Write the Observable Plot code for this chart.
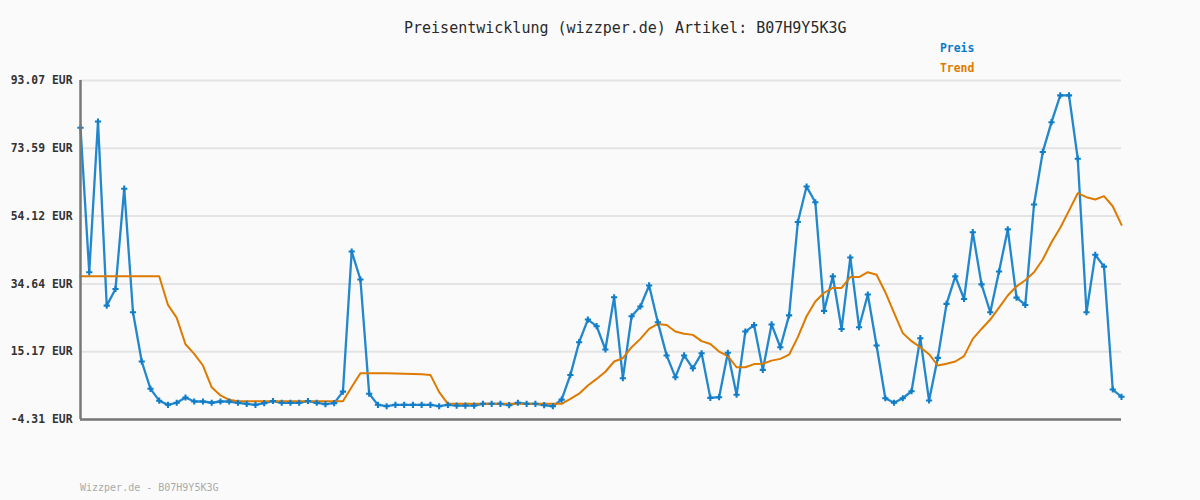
<!DOCTYPE html>
<html>
<head>
<meta charset="utf-8">
<script src="https://cdn.jsdelivr.net/npm/d3@7"></script>
<script src="https://cdn.jsdelivr.net/npm/@observablehq/plot@0.6"></script>
<style>
  html, body { margin: 0; padding: 0; background: #fafafa; }
  #wrap { position: relative; width: 1200px; height: 500px; background: #fafafa; font-family: "DejaVu Sans Mono", "Liberation Mono", monospace; }
  #wrap svg { position: absolute; left: 0; top: 0; }
  .abs { position: absolute; white-space: nowrap; line-height: 1; }
  #title { left: 404px; top: 21px; font-size: 15px; color: #2a2a2a; }
  .leg { font-size: 11.4px; font-weight: bold; left: 940px; }
  #footer { left: 80px; top: 483px; font-size: 10px; color: #aaa; }
</style>
</head>
<body>
<div id="wrap">
  <div id="title" class="abs">Preisentwicklung (wizzper.de) Artikel: B07H9Y5K3G</div>
  <div class="abs leg" style="top:43px;color:#0a7ac8">Preis</div>
  <div class="abs leg" style="top:63px;color:#dd7a00">Trend</div>
  <div id="footer" class="abs">Wizzper.de - B07H9Y5K3G</div>
</div>
<script>
const preis = [79.5, 38.0, 81.3, 28.4, 33.2, 62.0, 26.5, 12.35, 4.5, 1.1,
  -0.1, 0.5, 2.0, 0.86, 0.86, 0.5, 0.86, 0.86, 0.5, 0.2,
  -0.1, 0.4, 1.0, 0.5, 0.5, 0.5, 1.0, 0.5, 0.1, 0.4,
  3.7, 43.95, 35.9, 3.1, -0.1, -0.5, -0.1, -0.1, -0.1, -0.1,
  -0.1, -0.5, -0.1, -0.3, -0.3, -0.3, 0.2, 0.2, 0.2, -0.2,
  0.5, 0.2, 0.2, -0.2, -0.5, 1.4, 8.5, 17.9, 24.4, 22.5,
  15.8, 30.8, 7.55, 25.35, 28.15, 34.2, 23.6, 14.1, 7.85, 14.1,
  10.4, 14.7, 1.9, 2.1, 14.85, 2.8, 20.95, 22.8, 9.95, 23.0,
  16.45, 25.6, 52.4, 62.6, 58.1, 26.9, 36.8, 21.7, 42.2, 22.2,
  31.6, 16.95, 1.8, 0.5, 1.8, 3.8, 19.05, 1.15, 13.4, 28.9,
  36.8, 30.3, 49.5, 34.5, 26.5, 38.2, 50.3, 30.7, 28.6, 57.45,
  72.55, 81.1, 88.8, 88.8, 70.6, 26.5, 43.0, 39.6, 4.3, 2.2];

const trend = [36.85, 36.85, 36.85, 36.85, 36.85, 36.85, 36.85, 36.85, 36.85, 36.85,
  28.6, 24.9, 17.3, 14.55, 11.2, 4.95, 2.6, 1.35, 0.95, 0.95,
  0.95, 0.95, 0.95, 0.95, 0.95, 0.95, 0.95, 0.95, 0.95, 0.95,
  0.95, 5.0, 9.0, 9.0, 9.0, 9.0, 8.9, 8.8, 8.75, 8.7,
  8.5, 3.55, 0.2, 0.2, 0.2, 0.2, 0.2, 0.2, 0.2, 0.2,
  0.2, 0.2, 0.2, 0.2, 0.2, 0.2, 1.6, 3.1, 5.45, 7.35,
  9.4, 12.35, 13.3, 16.45, 18.85, 21.7, 23.15, 22.85, 20.95, 20.3,
  20.0, 18.2, 17.4, 15.2, 13.9, 10.7, 10.7, 11.6, 11.7, 12.6,
  13.1, 14.3, 19.35, 25.35, 29.6, 32.1, 33.5, 33.5, 36.6, 36.6,
  38.0, 37.25, 32.25, 26.3, 20.5, 18.2, 16.45, 14.45, 11.2, 11.7,
  12.35, 13.9, 18.85, 21.7, 24.4, 27.85, 31.3, 33.95, 35.7, 38.0,
  41.65, 46.6, 50.75, 55.7, 60.7, 59.55, 58.9, 59.85, 56.95, 51.6];

const yTicks = [93.07, 73.59, 54.12, 34.64, 15.17, -4.31];
const yTickLabels = ["93.07 EUR", "73.59 EUR", "54.12 EUR", "34.64 EUR", "15.17 EUR", "-4.31 EUR"];

const blue = "#0f7dc8";
const orange = "#dd7a00";

const preisData = preis.map((v, i) => ({i, v}));
const trendData = trend.map((v, i) => ({i, v}));
const labelOf = new Map(yTicks.map((t, k) => [t, yTickLabels[k]]));

const chart = Plot.plot({
  width: 1200,
  height: 500,
  marginLeft: 80,
  marginRight: 79,
  marginTop: 80,
  marginBottom: 81,
  style: {background: "transparent", fontFamily: "'DejaVu Sans Mono', monospace"},
  x: {domain: [0, preis.length - 1], axis: null},
  y: {domain: [-4.31, 93.07], axis: null},
  marks: [
    Plot.ruleY(yTicks, {stroke: "#e4e4e4", strokeWidth: 2}),
    Plot.axisY({ticks: yTicks, tickSize: 0, tickPadding: 8, tickFormat: d => labelOf.get(d),
      fontSize: 11.4, fontWeight: "bold", fill: "#333", label: null}),
    Plot.line(preisData, {x: "i", y: "v", stroke: blue, strokeWidth: 2.3, strokeOpacity: 0.92}),
    Plot.line(trendData, {x: "i", y: "v", stroke: orange, strokeWidth: 2}),
    Plot.dot(preisData, {x: "i", y: "v", symbol: "cross", r: 2.6, fill: blue, stroke: "none"}),
    Plot.ruleX([0], {stroke: "#777", strokeWidth: 2.5}),
    Plot.ruleY([-4.31], {stroke: "#777", strokeWidth: 2.5})
  ]
});
document.getElementById("wrap").prepend(chart);
</script>
</body>
</html>
